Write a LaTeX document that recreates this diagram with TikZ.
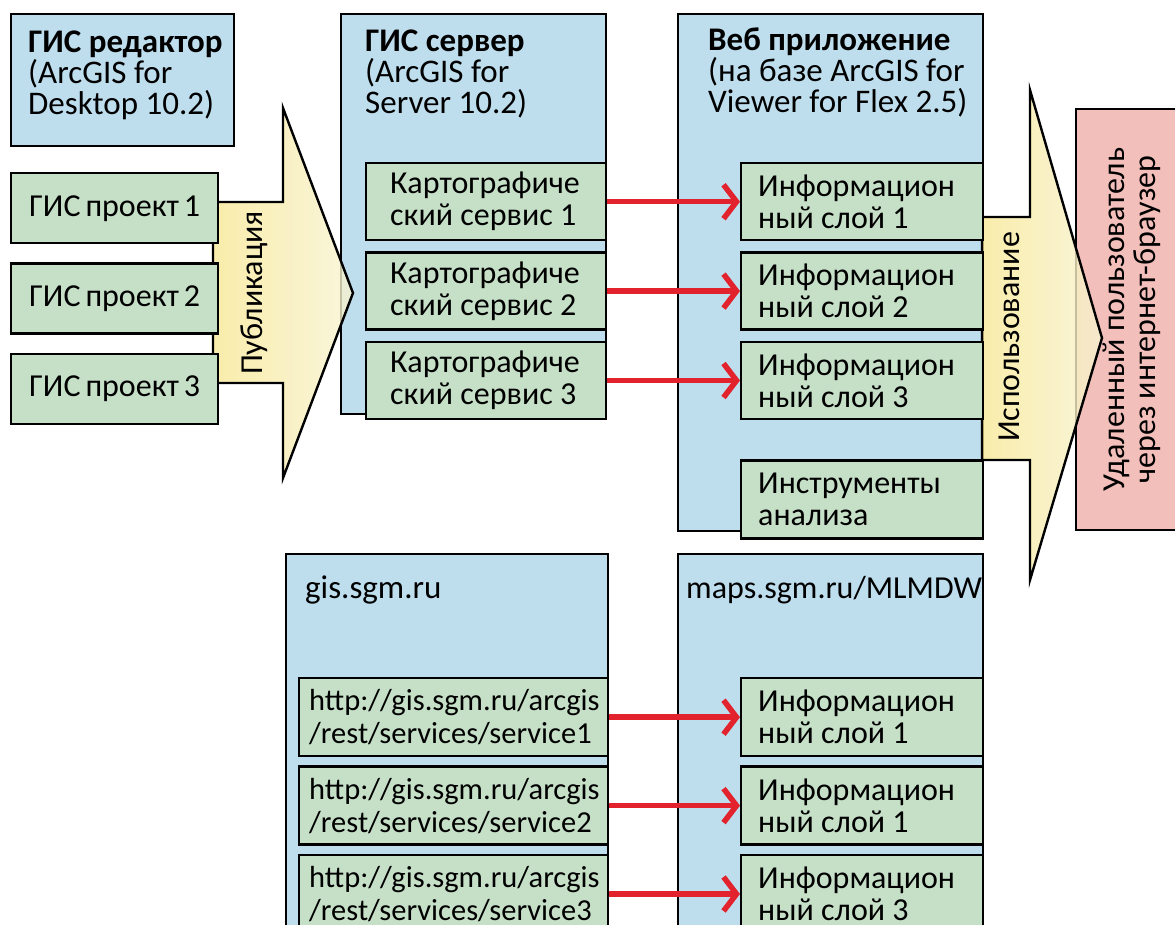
\documentclass[tikz,border=0pt]{standalone}
\usepackage{fontspec}
\setmainfont{Carlito}
\usetikzlibrary{positioning,arrows.meta}
\definecolor{paneblue}{RGB}{190,222,238}
\definecolor{itemgreen}{RGB}{198,224,200}
\definecolor{userpink}{RGB}{243,191,186}
\definecolor{linkred}{RGB}{226,35,45}
\definecolor{flowyellow}{RGB}{248,232,150}
\definecolor{flowpale}{RGB}{247,243,210}

\begin{document}
\begin{tikzpicture}[x=1pt,y=-1pt,font=\fontsize{32}{31}\selectfont,
	pane/.style={draw,line width=2.4pt,fill=paneblue,anchor=north west,inner sep=0pt},
	head/.style={anchor=north west,align=flush left,inner sep=0pt,font=\fontsize{33}{31}\selectfont},
	item/.style={draw,line width=2.4pt,fill=itemgreen,align=flush left,inner ysep=0pt,minimum height=#1,font=\fontsize{32}{32}\selectfont},
	item/.default=77pt,
	link/.style={draw=linkred,line width=5.5pt,-{Straight Barb[length=13pt,width=34pt]}},
	flow/.style={draw,line width=2.4pt,left color=flowyellow,right color=flowpale,fill opacity=0.8}]
	\useasboundingbox (0,0) rectangle (1175,925);
	\clip (0,0) rectangle (1175,925);

	\node[pane,minimum width=223pt,minimum height=132pt] (editor) at (10,13) {};
	\node[head] at ([shift={(18pt,-18pt)}]editor.north west) {\textbf{ГИС редактор}\\(ArcGIS for\\Desktop 10.2)};
	\node[pane,minimum width=265pt,minimum height=400pt] (server) at (340,13) {};
	\node[head] at ([shift={(25pt,-17pt)}]server.north west) {\textbf{ГИС сервер}\\(ArcGIS for\\Server 10.2)};
	\node[pane,minimum width=305pt,minimum height=517pt] (webapp) at (677,13) {};
	\node[head] at ([shift={(31pt,-15pt)}]webapp.north west) {\textbf{Веб приложение}\\(на базе ArcGIS for\\Viewer for Flex 2.5)};
	\node[draw,line width=2.4pt,fill=userpink,rotate=90,minimum width=421pt,minimum height=112pt,align=center] (user) at (1132,319.5) {Удаленный пользователь\\через интернет-браузер};

	\node[pane,minimum width=322pt,minimum height=400pt] (site) at (285,553) {};
	\node[head,anchor=west] at ([shift={(20pt,-37pt)}]site.north west) {gis.sgm.ru};
	\node[pane,minimum width=305pt,minimum height=400pt] (maps) at (677,553) {};
	\node[head,anchor=west,font=\fontsize{32}{31}\selectfont] at ([shift={(9pt,-37pt)}]maps.north west) {maps.sgm.ru/MLMDW};

	\path[flow] (213,202) -- (283,202) -- (283,108) -- (353,293) -- (283,478) -- (283,383) -- (213,383) -- cycle;
	\node[rotate=90] (publish) at (254,293) {Публикация};
	\path[flow] (982,217) -- (1030,217) -- (1030,90) -- (1102,338) -- (1030,580) -- (1030,460) -- (982,460) -- cycle;
	\node[rotate=90] (usage) at (1009,337) {Использование};

	\node[item=70pt,text width=171pt,inner xsep=18pt,anchor=north west] (prj1) at (10,172) {ГИС~проект~1};
	\node[item=70pt,text width=171pt,inner xsep=18pt] (prj2) [below=18pt of prj1] {ГИС~проект~2};
	\node[item=70pt,text width=171pt,inner xsep=18pt] (prj3) [below=18pt of prj2] {ГИС~проект~3};

	\node[item,text width=192pt,inner xsep=24pt,anchor=north west] (svc1) at (365,162) {Картографиче\\ский~сервис~1};
	\node[item,text width=192pt,inner xsep=24pt] (svc2) [below=10pt of svc1] {Картографиче\\ский~сервис~2};
	\node[item,text width=192pt,inner xsep=24pt] (svc3) [below=10pt of svc2] {Картографиче\\ский~сервис~3};

	\node[item,text width=208pt,inner xsep=17pt,anchor=north west] (lay1) at (740,162) {Информацион\\ный слой 1};
	\node[item,text width=208pt,inner xsep=17pt] (lay2) [below=10pt of lay1] {Информацион\\ный слой 2};
	\node[item,text width=208pt,inner xsep=17pt] (lay3) [below=10pt of lay2] {Информацион\\ный слой 3};
	\node[item=78pt,text width=208pt,inner xsep=17pt] (tools) [below=39pt of lay3] {Инструменты\\анализа};

	\node[item=78pt,text width=289pt,inner xsep=10pt,anchor=north west,font=\fontsize{30.5}{33}\selectfont] (url1) at (298,677) {http://gis.sgm.ru/arcgis\\/rest/services/service1};
	\node[item=78pt,text width=289pt,inner xsep=10pt,font=\fontsize{30.5}{33}\selectfont] (url2) [below=8pt of url1] {http://gis.sgm.ru/arcgis\\/rest/services/service2};
	\node[item=78pt,text width=289pt,inner xsep=10pt,font=\fontsize{30.5}{33}\selectfont] (url3) [below=8pt of url2] {http://gis.sgm.ru/arcgis\\/rest/services/service3};

	\node[item=78pt,text width=208pt,inner xsep=17pt,anchor=north west] (mlay1) at (740,677) {Информацион\\ный слой 1};
	\node[item=78pt,text width=208pt,inner xsep=17pt] (mlay2) [below=8pt of mlay1] {Информацион\\ный слой 1};
	\node[item=78pt,text width=208pt,inner xsep=17pt] (mlay3) [below=8pt of mlay2] {Информацион\\ный слой 3};

	\foreach \i in {1,2,3} {
		\draw[link] (svc\i.east) -- (svc\i.east -| lay\i.west);
		\draw[link] (url\i.east) -- (url\i.east -| mlay\i.west);
	}
\end{tikzpicture}
\end{document}
